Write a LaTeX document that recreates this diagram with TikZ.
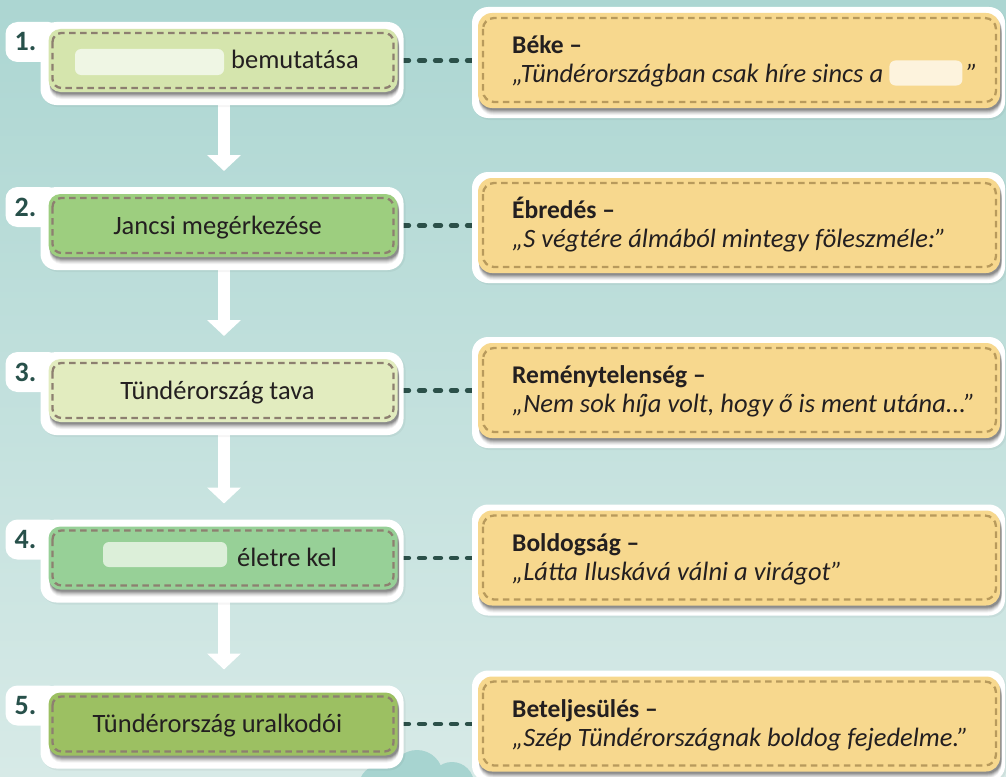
\documentclass[tikz,border=0pt]{standalone}
\usepackage{fontspec}
\setmainfont{Carlito}
\usetikzlibrary{calc,arrows.meta}
\definecolor{bgtop}{HTML}{ACD6D2}
\definecolor{bgbot}{HTML}{D7EAE7}
\definecolor{cloudc}{HTML}{A7D4D0}
\definecolor{gA}{HTML}{D5E5AD}
\definecolor{gB}{HTML}{9DCE7F}
\definecolor{gC}{HTML}{E2ECBF}
\definecolor{gD}{HTML}{97D097}
\definecolor{gE}{HTML}{9CC062}
\definecolor{blankA}{HTML}{EFF6E4}
\definecolor{blankD}{HTML}{DCEFD9}
\definecolor{yel}{HTML}{F7D88E}
\definecolor{yeldash}{HTML}{B89A5C}
\definecolor{blankQ}{HTML}{FDF3DD}
\definecolor{ldashc}{HTML}{8D7F70}
\definecolor{txt}{HTML}{231F20}
\definecolor{numc}{HTML}{27504A}
\definecolor{dotc}{HTML}{2B5049}
\tikzset{
  lshape/.style={minimum width=349pt,minimum height=63pt,inner sep=0pt,outer sep=0pt,draw=none},
  rshape/.style={minimum width=522pt,minimum height=95pt,inner sep=0pt,outer sep=0pt,draw=none},
  ldash/.style={draw=ldashc,line width=2.3pt,dash pattern=on 6.5pt off 4.5pt,rounded corners=9pt},
  rdash/.style={draw=yeldash,line width=2.3pt,dash pattern=on 6.5pt off 4.5pt,rounded corners=11pt},
  dotline/.style={draw=dotc,line width=4.8pt,line cap=round,dash pattern=on 5.5pt off 10.5pt,dash phase=10.25pt},
  flowarrow/.style={draw=white,line width=12pt,-{Triangle[width=33pt,length=16pt]}},
  numlbl/.style={inner sep=0pt,text=numc,font=\fontsize{28}{32}\selectfont\bfseries},
  ltext/.style={inner sep=0pt,text=txt,font=\fontsize{26.5}{30}\selectfont},
  rtitle/.style={inner sep=0pt,text=txt,font=\fontsize{25.5}{30}\selectfont\bfseries},
  rquote/.style={inner sep=0pt,text=txt,font=\fontsize{26.5}{30}\selectfont\itshape},
}
\newcommand\drawLeftBox[3]{%
  \fill[black,opacity=0.04,rounded corners=17pt] ($(#1.north west)+(-7,-6)$) rectangle ($(#1.south east)+(8,15)$);
  \fill[white,rounded corners=16pt] ($(#1.north west)+(-8,-7)$) rectangle ($(#1.south east)+(6,13)$);
  \fill[white,rounded corners=12pt] ($(#1.north west)+(-43,-7)$) rectangle ($(#1.north west)+(12,33)$);
  \foreach \d/\o in {7/0.05,6/0.06,5/0.08,4/0.1,3/0.12,2/0.14}{
    \fill[black,opacity=\o,rounded corners=12pt] ($(#1.north west)+(1,\d)$) rectangle ($(#1.south east)+(1.5,\d)$);}
  \fill[#2,rounded corners=12pt] (#1.north west) rectangle (#1.south east);
  \draw[ldash] ($(#1.north west)+(4,4)$) rectangle ($(#1.south east)+(-4,-4)$);
  \node[numlbl,anchor=base west] at ($(#1.north west)+(-34,22)$) {#3};
}
\newcommand\drawRightBox[1]{%
  \fill[black,opacity=0.04,rounded corners=17pt] ($(#1.north west)+(-5,-5)$) rectangle ($(#1.south east)+(7,12)$);
  \fill[white,rounded corners=16pt] ($(#1.north west)+(-6,-6)$) rectangle ($(#1.south east)+(5,10)$);
  \foreach \d/\o in {7/0.05,6/0.06,5/0.08,4/0.1,3/0.12,2/0.14}{
    \fill[black,opacity=\o,rounded corners=14pt] ($(#1.north west)+(1,\d)$) rectangle ($(#1.south east)+(1.5,\d)$);}
  \fill[yel,rounded corners=14pt] (#1.north west) rectangle (#1.south east);
  \draw[rdash] ($(#1.north west)+(5,5)$) rectangle ($(#1.south east)+(-4,-6)$);
}
\begin{document}
\begin{tikzpicture}[x=1pt,y=-1pt]
\useasboundingbox (0,0) rectangle (1006,776);
\shade[top color=bgtop,bottom color=bgbot] (0,0) rectangle (1006,776);
% cloud
\fill[cloudc] (417,776) circle[radius=26];
\fill[cloudc] (380,786) circle[radius=21];
\fill[cloudc] (452,784) circle[radius=22];
\fill[cloudc] (400,790) circle[radius=25];
% placeholder nodes
\node[lshape] (b1) at (223,60.5) {};
\node[lshape] (b2) at (223,225.5) {};
\node[lshape] (b3) at (223,390.5) {};
\node[lshape] (b4) at (223,558) {};
\node[lshape] (b5) at (223,724) {};
\node[rshape] (q1) at (739,60.5) {};
\node[rshape] (q2) at (739,225.5) {};
\node[rshape] (q3) at (739,390.5) {};
\node[rshape] (q4) at (739,558) {};
\node[rshape] (q5) at (739,724) {};
% connectors
\foreach \i in {1,...,5}{\draw[dotline] (b\i.east) -- (q\i.west);}
% flow arrows
\foreach \i/\j in {1/2,2/3,3/4,4/5}{
  \draw[flowarrow] ($(b\i.south)+(1,12)$) -- ($(b\j.north)+(1,-23)$);}
% left boxes
\drawLeftBox{b1}{gA}{1.}
\drawLeftBox{b2}{gB}{2.}
\drawLeftBox{b3}{gC}{3.}
\drawLeftBox{b4}{gD}{4.}
\drawLeftBox{b5}{gE}{5.}
% left texts
\node[ltext,anchor=base west] (t1) at (231,69) {bemutatása};
\fill[blankA,rounded corners=6pt] ($(t1.base west)+(-156,-20)$) rectangle ($(t1.base west)+(-7,6)$);
\node[ltext,anchor=base] (t2) at (217.5,234) {Jancsi megérkezése};
\node[ltext,anchor=base] (t3) at (217.5,399) {Tündérország tava};
\node[ltext,anchor=base west] (t4) at (237,566) {életre kel};
\fill[blankD,rounded corners=6pt] ($(t4.base west)+(-134,-24)$) rectangle ($(t4.base west)+(-10,1)$);
\node[ltext,anchor=base] (t5) at (217.5,732.5) {Tündérország uralkodói};
% right boxes
\drawRightBox{q1}
\drawRightBox{q2}
\drawRightBox{q3}
\drawRightBox{q4}
\drawRightBox{q5}
\node[rtitle,anchor=base west] (h1) at ($(q1.west)+(34,-7)$) {Béke –};
\node[rquote,anchor=base west] (s1) at ($(q1.west)+(34,22)$) {„Tündérországban csak híre sincs a};
\fill[blankQ,rounded corners=6pt] ($(s1.base east)+(6,-22)$) rectangle ($(s1.base east)+(79,3)$);
\node[rquote,anchor=base west] (e1) at ($(s1.base east)+(83,0)$) {”};
\node[rtitle,anchor=base west] (h2) at ($(q2.west)+(34,-7)$) {Ébredés –};
\node[rquote,anchor=base west] (s2) at ($(q2.west)+(34,22)$) {„S végtére álmából mintegy föleszméle:”};
\node[rtitle,anchor=base west] (h3) at ($(q3.west)+(34,-7)$) {Reménytelenség –};
\node[rquote,anchor=base west] (s3) at ($(q3.west)+(34,22)$) {„Nem sok híja volt, hogy ő is ment utána...”};
\node[rtitle,anchor=base west] (h4) at ($(q4.west)+(34,-7)$) {Boldogság –};
\node[rquote,anchor=base west] (s4) at ($(q4.west)+(34,22)$) {„Látta Iluskává válni a virágot”};
\node[rtitle,anchor=base west] (h5) at ($(q5.west)+(34,-7)$) {Beteljesülés –};
\node[rquote,anchor=base west] (s5) at ($(q5.west)+(34,22)$) {„Szép Tündérországnak boldog fejedelme.”};
\end{tikzpicture}
\end{document}
